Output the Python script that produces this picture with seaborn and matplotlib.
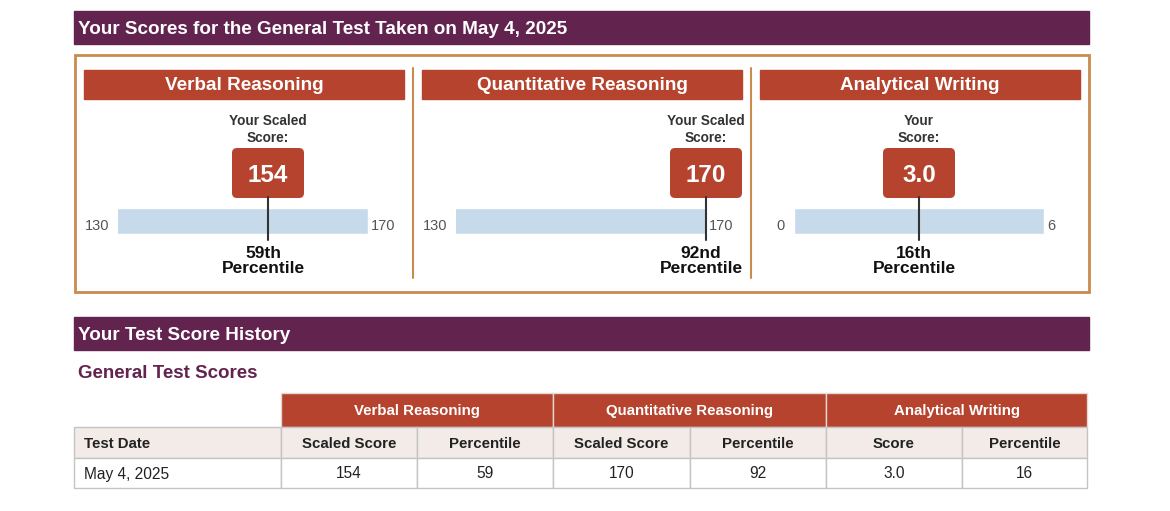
import numpy as np
import pandas as pd
import seaborn as sns
from matplotlib import pyplot as plt
from matplotlib.patches import Rectangle, FancyBboxPatch

# score report values
sections = ['Verbal Reasoning', 'Quantitative Reasoning', 'Analytical Writing']
scores = [154, 170, 3.0]
score_labels = ['154', '170', '3.0']
scale_min = [130, 130, 0]
scale_max = [170, 170, 6]
percentiles = [59, 92, 16]
percentile_labels = ['59th', '92nd', '16th']
score_captions = ['Your Scaled\nScore:', 'Your Scaled\nScore:', 'Your\nScore:']

test_dates = ['May 4, 2025']
sub_headers = ['Scaled Score', 'Percentile', 'Scaled Score', 'Percentile', 'Score', 'Percentile']
history_values = [['154', '59', '170', '92', '3.0', '16']]

title_main = 'Your Scores for the General Test Taken on May 4, 2025'
title_history = 'Your Test Score History'
subtitle_history = 'General Test Scores'

PURPLE = '#62234f'
RED = '#b5432e'
BLUE = '#c6daec'
ORANGE = '#c98b4e'
ROW_FILL = '#f3ebe7'
GRID = '#c4c4c4'

W, H = 1170, 511

sns.set_theme(style='white')
plt.rcParams['font.family'] = ['Liberation Sans', 'DejaVu Sans']

fig = plt.figure(figsize=(W / 100, H / 100), dpi=100)
fig.patch.set_facecolor('white')

bg = fig.add_axes([0, 0, 1, 1])
bg.set_xlim(0, W)
bg.set_ylim(H, 0)
bg.axis('off')


def px_axes(x0, y0, x1, y1):
    return fig.add_axes([x0 / W, 1 - y1 / H, (x1 - x0) / W, (y1 - y0) / H])


# top section
bg.add_patch(Rectangle((74, 11), 1015, 33, color=PURPLE))
bg.text(78, 29.5, title_main, color='white', fontsize=13.6, fontweight='bold', va='center')
bg.add_patch(Rectangle((75, 55), 1014, 237, fill=False, edgecolor=ORANGE, lw=2))

panel_x = [84, 422, 760]
bar_x = [118, 456, 794]
bar_w = 250
for sep in [413, 751]:
    bg.plot([sep, sep], [68, 278], color=ORANGE, lw=1.5)

for i, name in enumerate(sections):
    px = panel_x[i]
    bg.add_patch(Rectangle((px, 70), 320, 29, color=RED))
    bg.text(px + 160, 86, name, color='white', fontsize=13.6, fontweight='bold',
            ha='center', va='center')

    lo, hi = scale_min[i], scale_max[i]
    x0 = bar_x[i]

    # the scale bar
    bar_ax = px_axes(x0, 208, x0 + bar_w, 234)
    sns.barplot(x=[hi], y=[''], orient='h', color=BLUE, width=1, saturation=1, ax=bar_ax)
    bar_ax.set_xlim(lo, hi)
    bar_ax.set_ylim(0.5, -0.5)
    bar_ax.axis('off')

    # marker overlay, x in score units, y in pixels
    ov = px_axes(x0, 105, x0 + bar_w, 285)
    ov.set_xlim(lo, hi)
    ov.set_ylim(285, 105)
    ov.axis('off')
    unit = (hi - lo) / bar_w
    s = scores[i]
    ov.plot([s, s], [197, 240], color='#333333', lw=1.5, clip_on=False)
    ov.add_patch(FancyBboxPatch((s - 36 * unit, 148), 72 * unit, 50,
                                boxstyle=f'round,pad=0,rounding_size={5 * unit}',
                                mutation_aspect=1 / unit,
                                facecolor=RED, edgecolor='none', clip_on=False))
    ov.text(s, 175, score_labels[i], color='white', fontsize=17.5, fontweight='bold',
            ha='center', va='center', clip_on=False)
    ov.text(s, 129.5, score_captions[i], color='#333333', fontsize=9.8, fontweight='bold',
            ha='center', va='center', linespacing=1.25, clip_on=False)
    ov.text(s - 5 * unit, 261, percentile_labels[i] + '\nPercentile', color='#111111',
            fontsize=12.5, fontweight='bold', ha='center', va='center',
            linespacing=0.95, clip_on=False)

    bg.text(x0 - 9, 226, str(lo), color='#555555', fontsize=10.5, ha='right', va='center')
    bg.text(x0 + bar_w + 3, 226, str(hi), color='#555555', fontsize=10.5, ha='left', va='center')

# history section
bg.add_patch(Rectangle((74, 317), 1015, 33, color=PURPLE))
bg.text(78, 335.5, title_history, color='white', fontsize=13.6, fontweight='bold', va='center')
bg.text(78, 374, subtitle_history, color=PURPLE, fontsize=13.5, fontweight='bold', va='center')

col_edges = [74, 281, 417, 553, 690, 826, 962, 1087]
row_edges = [393, 427, 458, 488]

# group header row
for g, name in enumerate(sections):
    gx0, gx1 = col_edges[1 + 2 * g], col_edges[3 + 2 * g]
    bg.add_patch(Rectangle((gx0, row_edges[0]), gx1 - gx0, row_edges[1] - row_edges[0],
                           facecolor=RED, edgecolor='#e8d6d0', lw=1))
    bg.text((gx0 + gx1) / 2, (row_edges[0] + row_edges[1]) / 2 + 1, name, color='white',
            fontsize=10.8, fontweight='bold', ha='center', va='center')

# sub header row and values
rows = [['Test Date'] + sub_headers] + [[d] + v for d, v in zip(test_dates, history_values)]
for r, row in enumerate(rows):
    y0, y1 = row_edges[1 + r], row_edges[2 + r]
    for c, val in enumerate(row):
        cx0, cx1 = col_edges[c], col_edges[c + 1]
        bg.add_patch(Rectangle((cx0, y0), cx1 - cx0, y1 - y0,
                               facecolor=ROW_FILL if r == 0 else 'white',
                               edgecolor=GRID, lw=1))
        weight = 'bold' if r == 0 else 'normal'
        size = 11.2 if r else 10.8
        ty = (y0 + y1) / 2 + 1
        if c == 0:
            bg.text(cx0 + 10, ty, val, color='#222222', fontsize=size,
                    fontweight=weight, ha='left', va='center')
        else:
            bg.text((cx0 + cx1) / 2, ty, val, color='#222222', fontsize=size,
                    fontweight=weight, ha='center', va='center')

fig.savefig('out.png', dpi=100, facecolor='white')
